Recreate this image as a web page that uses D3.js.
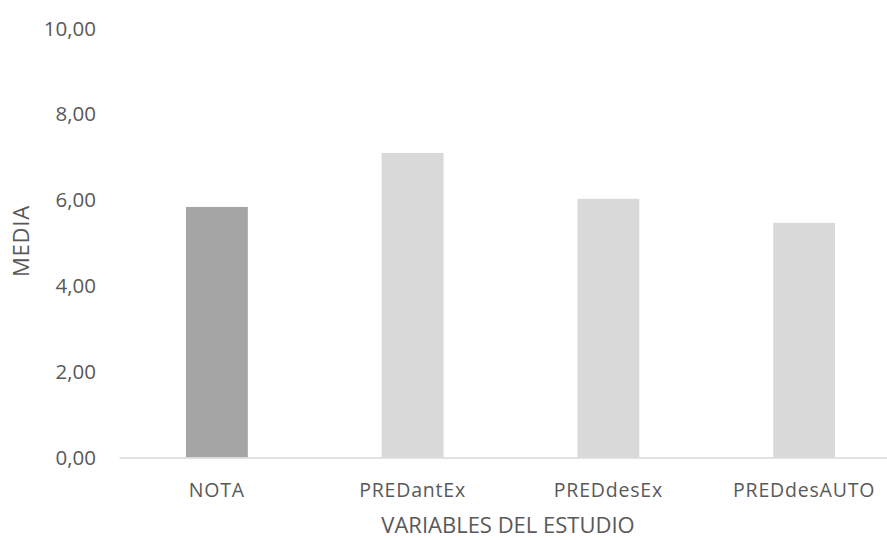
<!DOCTYPE html>
<html><head><meta charset="utf-8">
<script src="https://cdn.jsdelivr.net/npm/d3@7"></script>
<style>body{margin:0;background:#fff}svg{display:block}text{font-family:"Open Sans","Noto Sans",sans-serif;fill:#595959}</style>
</head><body>
<script>
const categories = ["NOTA","PREDantEx","PREDdesEx","PREDdesAUTO"];
const values = [5.84, 7.10, 6.03, 5.47];
const barColors = ["#a5a5a5","#d9d9d9","#d9d9d9","#d9d9d9"];
const yTicks = [0,2,4,6,8,10];

const W=887,H=540;
const svg=d3.select("body").append("svg").attr("width",W).attr("height",H);
const x=d3.scaleBand().domain(categories).range([119,902]).paddingInner(0.684).paddingOuter(0.342);
const y=d3.scaleLinear().domain([0,10]).range([457.5,28.5]);
const fmt=d=>d3.format(".2f")(d).replace(".",",");

svg.selectAll("rect.bar").data(values).enter().append("rect")
  .attr("x",(d,i)=>x(categories[i])).attr("width",x.bandwidth())
  .attr("y",d=>y(d)).attr("height",d=>y(0)-y(d)).attr("fill",(d,i)=>barColors[i]);

const ya=svg.append("g").attr("transform","translate(96,0)")
  .call(d3.axisLeft(y).tickValues(yTicks).tickFormat(fmt).tickSize(0).tickPadding(0));
ya.select(".domain").remove();
ya.selectAll("text").attr("font-size",20.5).style("fill","#595959").style("font-family","'Open Sans',sans-serif");

const xa=svg.append("g").attr("transform",`translate(0,${y(0)})`)
  .call(d3.axisBottom(x).tickSize(0).tickPadding(26));
xa.select(".domain").attr("stroke","#d9d9d9").attr("stroke-width",1.5);
xa.selectAll("text").attr("font-size",19.5).style("fill","#595959").style("font-family","'Open Sans',sans-serif").attr("letter-spacing",0.8);

svg.append("text").attr("x",508).attr("y",533).attr("text-anchor","middle").attr("font-size",22).text("VARIABLES DEL ESTUDIO");
svg.append("text").attr("transform","translate(29,241) rotate(-90)").attr("text-anchor","middle").attr("font-size",22).attr("letter-spacing",0.8).text("MEDIA");
</script>
</body></html>
